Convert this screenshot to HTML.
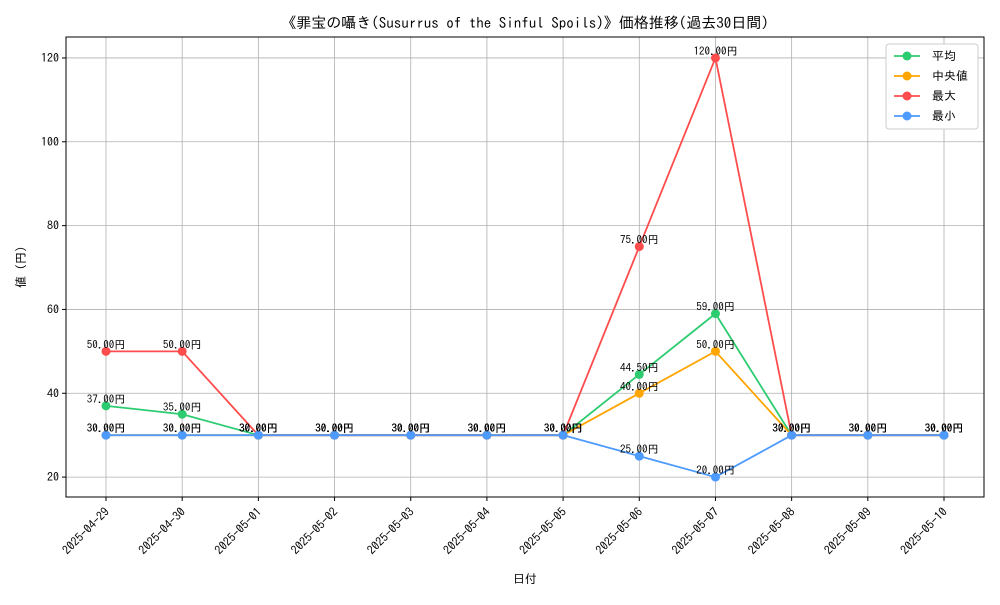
<!DOCTYPE html>
<html><head><meta charset="utf-8"><style>
body{margin:0;background:#fff}
svg{font-family:"IPAGothic","Noto Sans CJK JP",monospace}
</style></head><body>
<svg id="chart" width="1000" height="600" xmlns="http://www.w3.org/2000/svg">
<rect width="1000" height="600" fill="#fff"/>
<text x="525" y="28" text-anchor="middle" font-size="15">《罪宝の囁き(Susurrus of the Sinful Spoils)》価格推移(過去30日間)</text>
<g id="grid"></g>
<g id="axes"></g>
<g id="series"></g>
<rect x="66" y="37" width="918" height="460" fill="none" stroke="#000" stroke-width="1"/>
<text x="525" y="583" text-anchor="middle" font-size="12">日付</text>
<text x="25" y="267" text-anchor="middle" font-size="12" transform="rotate(-90 25 267)">値 (円)</text>
<g id="legend">
<rect x="886" y="44" width="92" height="85" fill="#fff" stroke="#ccc" rx="3"/>
</g>
</svg>
<script>
const dates=["2025-04-29","2025-04-30","2025-05-01","2025-05-02","2025-05-03","2025-05-04","2025-05-05","2025-05-06","2025-05-07","2025-05-08","2025-05-09","2025-05-10"];
const avgVals=[37,35,30,30,30,30,30,44.5,59,30,30,30];
const medianVals=[30,30,30,30,30,30,30,40,50,30,30,30];
const maxVals=[50,50,30,30,30,30,30,75,120,30,30,30];
const minVals=[30,30,30,30,30,30,30,25,20,30,30,30];
const yTicks=[20,40,60,80,100,120];
const seriesNames=["平均","中央値","最大","最小"];
const NS="http://www.w3.org/2000/svg";
const L=66,R=984,T=37,B=497;
const xMin=-0.525,xMax=dates.length-1+0.525,yMin=15.25,yMax=125;
const xs=i=>L+(i-xMin)/(xMax-xMin)*(R-L);
const ys=v=>B-(v-yMin)/(yMax-yMin)*(B-T);
function mk(tag,attrs,parent){const e=document.createElementNS(NS,tag);for(const k in attrs)e.setAttribute(k,attrs[k]);parent.appendChild(e);return e;}
const grid=document.getElementById('grid'),axes=document.getElementById('axes'),ser=document.getElementById('series'),leg=document.getElementById('legend');
dates.forEach((d,i)=>{
  const x=xs(i);
  const g=mk('line',{x1:x,x2:x,y1:T,y2:B,stroke:'#b0b0b0','stroke-width':0.8},grid);
  
  
  mk('line',{x1:x,x2:x,y1:B,y2:B+4,stroke:'#000'},axes);
  const t=mk('text',{x:x,y:B+14,'font-size':12,'text-anchor':'end',transform:`rotate(-45 ${x+4} ${B+10})`},axes);
  
  
  t.textContent=d;
});
yTicks.forEach(v=>{
  const y=ys(v);
  const g=mk('line',{x1:L,x2:R,y1:y,y2:y,stroke:'#b0b0b0','stroke-width':0.8},grid);
  
  
  mk('line',{x1:L-4,x2:L,y1:y,y2:y,stroke:'#000'},axes);
  const t=mk('text',{x:L-7,y:y+4,'font-size':12,'text-anchor':'end'},axes);
  
  
  t.textContent=v;
});
const allSeries=[avgVals,medianVals,maxVals,minVals];
const colors=["#2ecc71","#ffa500","#ff4d4d","#4d9bff"];
const keys=["avg","median","max","min"];
allSeries.forEach((vals,s)=>{
  const g=mk('g',{},ser);
  
  
  const pl=mk('polyline',{points:vals.map((v,i)=>xs(i)+','+ys(v)).join(' '),fill:'none',stroke:colors[s],'stroke-width':1.8},g);
  
  
  vals.forEach((v,i)=>{
    const c=mk('circle',{cx:xs(i),cy:ys(v),r:4.5,fill:colors[s]},g);
    
    
    const t=mk('text',{x:xs(i),y:ys(v)-3,'font-size':11,'text-anchor':'middle'},g);
    
    
    t.textContent=v.toFixed(2)+'円';
  });
  const ly=56+s*20;
  mk('line',{x1:894,x2:920,y1:ly,y2:ly,stroke:colors[s],'stroke-width':1.8},leg);
  mk('circle',{cx:907,cy:ly,r:4.5,fill:colors[s]},leg);
  const lt=mk('text',{x:932,y:ly+4,'font-size':12},leg);
  
  
  lt.textContent=seriesNames[s];
});
</script>
</body></html>
